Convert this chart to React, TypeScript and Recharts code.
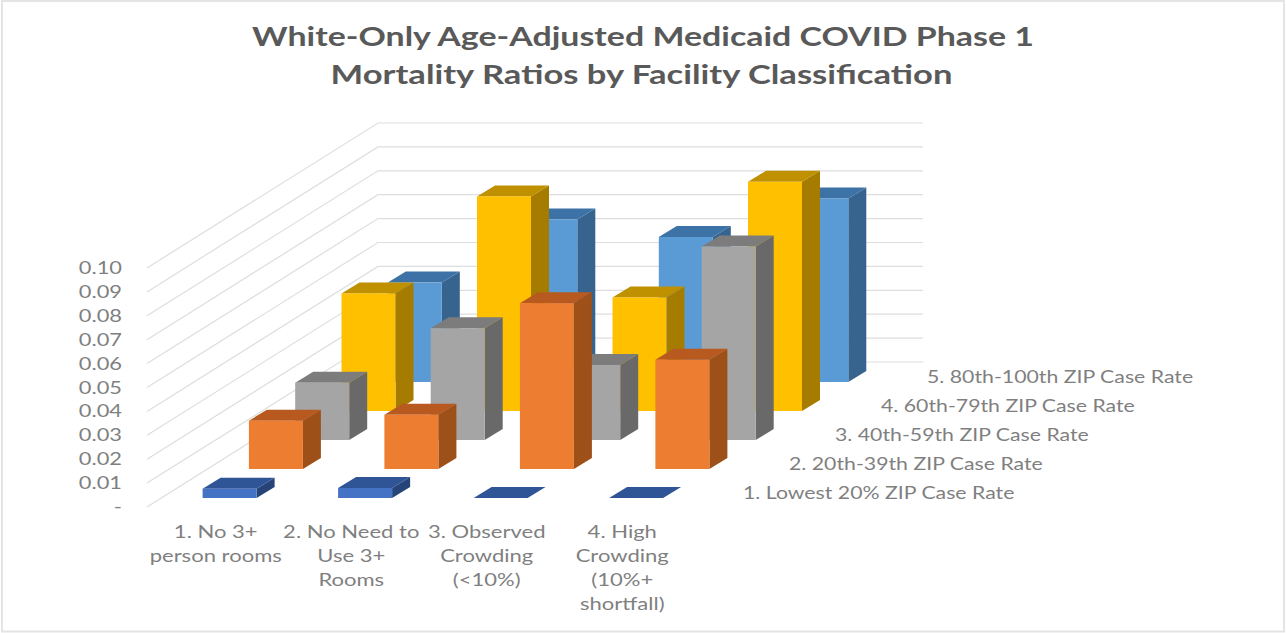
import { BarChart, Bar, CartesianGrid, XAxis, YAxis } from "recharts";

const categories = [
  "1. No 3+|person rooms",
  "2. No Need to|Use 3+|Rooms",
  "3. Observed|Crowding|(<10%)",
  "4. High|Crowding|(10%+|shortfall)",
];

// front to back, same order as the depth axis
const lowest20 = [0.0039, 0.0042, 0, 0];
const pct20to39 = [0.0202, 0.0227, 0.0694, 0.0457];
const pct40to59 = [0.024, 0.0468, 0.0314, 0.081];
const pct60to79 = [0.0492, 0.0898, 0.0475, 0.0959];
const pct80to100 = [0.0416, 0.068, 0.0607, 0.0768];

const seriesNames = [
  "1. Lowest 20% ZIP Case Rate",
  "2. 20th-39th ZIP Case Rate",
  "3. 40th-59th ZIP Case Rate",
  "4. 60th-79th ZIP Case Rate",
  "5. 80th-100th ZIP Case Rate",
];

const yTicks = [0, 0.01, 0.02, 0.03, 0.04, 0.05, 0.06, 0.07, 0.08, 0.09, 0.1];

const data = categories.map((name, i) => ({
  name,
  s1: lowest20[i],
  s2: pct20to39[i],
  s3: pct40to59[i],
  s4: pct60to79[i],
  s5: pct80to100[i],
}));

const FONT = "Lato, sans-serif";
const TEXT_GREY = "#7f7f7f";
const GRID = "#dedede";

// projection of the fake depth axis
const STEP_X = 46.3;
const STEP_Y = 29;
const START_X = 14.6;
const START_Y = 9;
const BAR_DX = 18;
const BAR_DY = 11;

const palettes = [
  { front: "#4472c4", top: "#2f5597", side: "#264478" },
  { front: "#ed7d31", top: "#b85a1f", side: "#9e5019" },
  { front: "#a5a5a5", top: "#7c7c7c", side: "#696969" },
  { front: "#ffc000", top: "#bf9000", side: "#a67c00" },
  { front: "#5b9bd5", top: "#3c72a6", side: "#36648f" },
];

function box(depth: number) {
  const ox = START_X + depth * STEP_X;
  const oy = START_Y + depth * STEP_Y;
  const c = palettes[depth];
  return (props: any) => {
    const x = props.x + ox;
    const w = props.width;
    const h = props.height || 0;
    const y = props.y - oy;
    return (
      <g>
        <polygon
          points={`${x + w},${y} ${x + w + BAR_DX},${y - BAR_DY} ${x + w + BAR_DX},${y + h - BAR_DY} ${x + w},${y + h}`}
          fill={c.side}
        />
        <polygon
          points={`${x},${y} ${x + BAR_DX},${y - BAR_DY} ${x + w + BAR_DX},${y - BAR_DY} ${x + w},${y}`}
          fill={c.top}
        />
        {h > 0 && <rect x={x} y={y} width={w} height={h} fill={c.front} />}
      </g>
    );
  };
}

// the reference is stretched sideways, so the text is too
function Wide({ x, y, sx, anchor, size, weight, fill, children }: any) {
  return (
    <text
      transform={`translate(${x} ${y}) scale(${sx} 1)`}
      textAnchor={anchor}
      fontFamily={FONT}
      fontSize={size}
      fontWeight={weight}
      fill={fill}
    >
      {children}
    </text>
  );
}

// gridline running along the side wall and the back wall
function wallLine(props: any) {
  const y = props.y1;
  return (
    <polyline
      key={props.key ?? y}
      points={`147,${y} 378,${y - 145} 923,${y - 145}`}
      fill="none"
      stroke={GRID}
      strokeWidth={1.2}
    />
  );
}

function WallTick({ y, payload }: any) {
  const label = payload.value === 0 ? "-" : payload.value.toFixed(2);
  return (
    <Wide x={122} y={y + 6} sx={1.25} anchor="end" size={17.5} fill={TEXT_GREY}>
      {label}
    </Wide>
  );
}

function CategoryTick({ x, payload }: any) {
  const lines = String(payload.value).split("|");
  return (
    <g>
      {lines.map((line, i) => (
        <Wide key={line} x={x + 1} y={538 + i * 24} sx={1.26} anchor="middle" size={17.5} fill={TEXT_GREY}>
          {line}
        </Wide>
      ))}
    </g>
  );
}

export default function App() {
  return (
    <div style={{ position: "absolute", left: 0, top: 0, width: 1286, height: 633, background: "#fff" }}>
      <BarChart
        width={1286}
        height={633}
        data={data}
        margin={{ top: 268, bottom: 125, left: 146, right: 597 }}
        barSize={54}
        barGap={-54}
      >
        <CartesianGrid vertical={false} horizontal={wallLine} />
        <XAxis
          dataKey="name"
          height={1}
          axisLine={false}
          tickLine={false}
          interval={0}
          tick={CategoryTick}
        />
        <YAxis
          width={1}
          domain={[0, 0.1]}
          ticks={yTicks}
          interval={0}
          axisLine={false}
          tickLine={false}
          tick={WallTick}
        />
        {/* back row first so the front rows paint over it */}
        <Bar dataKey="s5" isAnimationActive={false} shape={box(4)} />
        <Bar dataKey="s4" isAnimationActive={false} shape={box(3)} />
        <Bar dataKey="s3" isAnimationActive={false} shape={box(2)} />
        <Bar dataKey="s2" isAnimationActive={false} shape={box(1)} />
        <Bar dataKey="s1" isAnimationActive={false} shape={box(0)} />
        <Wide x={643} y={46} sx={1.305} anchor="middle" size={26} weight={700} fill="#595959">
          White-Only Age-Adjusted Medicaid COVID Phase 1
        </Wide>
        <Wide x={641.5} y={84} sx={1.33} anchor="middle" size={26} weight={700} fill="#595959">
          Mortality Ratios by Facility Classification
        </Wide>
        {seriesNames.map((name, i) => (
          <Wide key={name} x={743 + i * 46} y={499 - i * 29} sx={1.215} size={17.5} fill={TEXT_GREY}>
            {name}
          </Wide>
        ))}
        <rect x={2} y={1} width={1282} height={630.5} fill="none" stroke="#e4e4e4" strokeWidth={2} />
      </BarChart>
    </div>
  );
}
